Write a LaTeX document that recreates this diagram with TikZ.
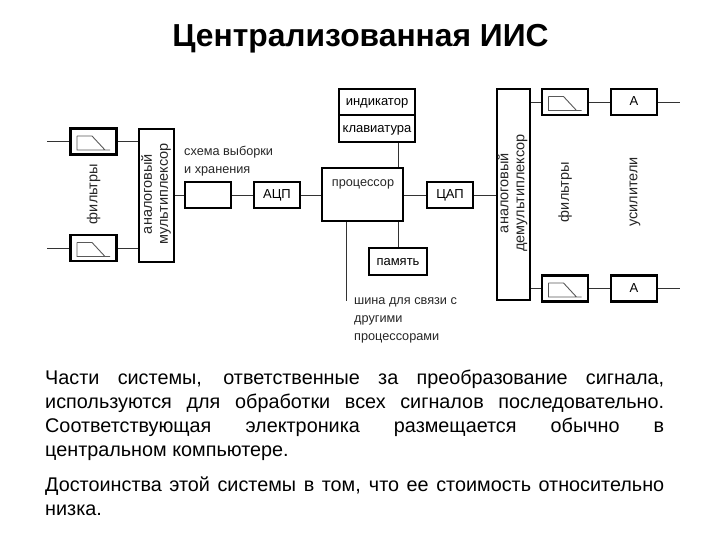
\documentclass[tikz,border=0pt]{standalone}
\usepackage{fontspec}
\setmainfont{Liberation Sans}
\usetikzlibrary{calc}
\tikzset{
  blok/.style={draw,line width=2.1pt,minimum width=46pt,minimum height=26pt,inner sep=0pt,text height=8pt,text depth=0pt,font=\fontsize{13}{15}\selectfont},
  wire/.style={line width=0.9pt,black!80},
  lbl/.style={inner sep=0pt,align=left,font=\fontsize{12.7}{18}\selectfont,black!85},
  vlbl/.style={lbl,rotate=90,align=center,font=\fontsize{14.5}{16}\selectfont},
  lowpass/.pic={
    \draw[line width=0.9pt,black!65] (-16.5,5.5)--(-16.5,-8.5)--(16.5,-8.5) (-16.5,5.5)--(-1.5,5.5)--(11.5,-8.5);
  }
}
\begin{document}
\begin{tikzpicture}[x=1pt,y=1pt]
  \useasboundingbox (0,0) rectangle (720,540);
  \node[font=\bfseries\fontsize{31.8}{36}\selectfont] (title) at (360.5,501) {Централизованная ИИС};
  % left part
  \node[blok] (f1) at (93.5,398.5) {};
  \node[blok] (f2) at (93.5,292) {};
  \node[blok,minimum width=35pt,minimum height=133pt] (mux) at (156.5,344.5) {};
  \node[vlbl] (muxt) at (156,346) {аналоговый\\мультиплексор};
  \node[blok] (shx) at (208,345) {};
  \node[blok] (adc) at (277,345) {АЦП};
  \node[vlbl] (ft1) at (93.5,346) {фильтры};
  \node[lbl,anchor=west] (shxt) at (184,379) {схема выборки\\и хранения};
  \pic at (f1.center) {lowpass};
  \pic at (f2.center) {lowpass};
  \coordinate (in1) at (47,398.5);
  \coordinate (in2) at (47,292);
  % centre
  \node[blok,minimum width=81pt,minimum height=53pt] (proc) at (362.5,345.5) {};
  \node[lbl] (proct) at (363,356) {процессор};
  \node[blok,minimum width=76pt,minimum height=26.5pt] (ind) at (377,438) {индикатор};
  \node[blok,minimum width=76pt,minimum height=26.5pt] (kbd) at (377,411.5) {клавиатура};
  \node[blok,minimum width=58pt,minimum height=27pt] (mem) at (398,278.5) {память};
  \node[blok] (dac) at (450,345) {ЦАП};
  \coordinate (bus) at (346,239);
  \node[lbl,anchor=west] (bust) at (354,220) {шина для связи с\\другими\\процессорами};
  % right part
  \node[blok,minimum width=33pt,minimum height=211pt] (dmx) at (513.5,345.5) {};
  \node[vlbl] (dmxt) at (512.5,347) {аналоговый\\демультиплексор};
  \node[blok] (f3) at (565,438) {};
  \node[blok] (f4) at (565,251.5) {};
  \node[blok] (a1) at (634,438) {А};
  \node[blok] (a2) at (634,251.5) {А};
  \node[vlbl] (ft2) at (565,348) {фильтры};
  \node[vlbl] (ust) at (635,348) {усилители};
  \pic at (f3.center) {lowpass};
  \pic at (f4.center) {lowpass};
  \coordinate (out1) at (680,438);
  \coordinate (out2) at (680,251.5);
  % wires
  \draw[wire] (in1)--(f1.west);
  \draw[wire] (in2)--(f2.west);
  \draw[wire] (f1.east)--(f1.east-|mux.west);
  \draw[wire] (f2.east)--(f2.east-|mux.west);
  \draw[wire] (mux.east|-shx.west)--(shx.west);
  \draw[wire] (shx.east)--(adc.west);
  \draw[wire] (adc.east)--(adc.east-|proc.west);
  \draw[wire] (proc.east|-dac.west)--(dac.west);
  \draw[wire] (dac.east)--(dac.east-|dmx.west);
  \draw[wire] (kbd.south-|mem.north)--(proc.north-|mem.north);
  \draw[wire] (proc.south-|mem.north)--(mem.north);
  \draw[wire] (proc.south-|bus)--(bus);
  \draw[wire] (dmx.east|-f3.west)--(f3.west);
  \draw[wire] (dmx.east|-f4.west)--(f4.west);
  \draw[wire] (f3.east)--(a1.west);
  \draw[wire] (f4.east)--(a2.west);
  \draw[wire] (a1.east)--(out1);
  \draw[wire] (a2.east)--(out2);
  % text below
  \node[anchor=north west,inner sep=0pt,text width=619pt,align=justify,font=\fontsize{19.8}{24}\selectfont] (txt1) at (45,170.5)
    {Части системы, ответственные за преобразование сигнала,\linebreak используются для обработки всех сигналов последовательно.\linebreak Соответствующая электроника размещается обычно в\linebreak центральном компьютере.};
  \node[anchor=north west,inner sep=0pt,text width=619pt,align=justify,font=\fontsize{19.8}{24}\selectfont] (txt2) at (45,63.5)
    {Достоинства этой системы в том, что ее стоимость относительно\linebreak низка.};
\end{tikzpicture}
\end{document}
